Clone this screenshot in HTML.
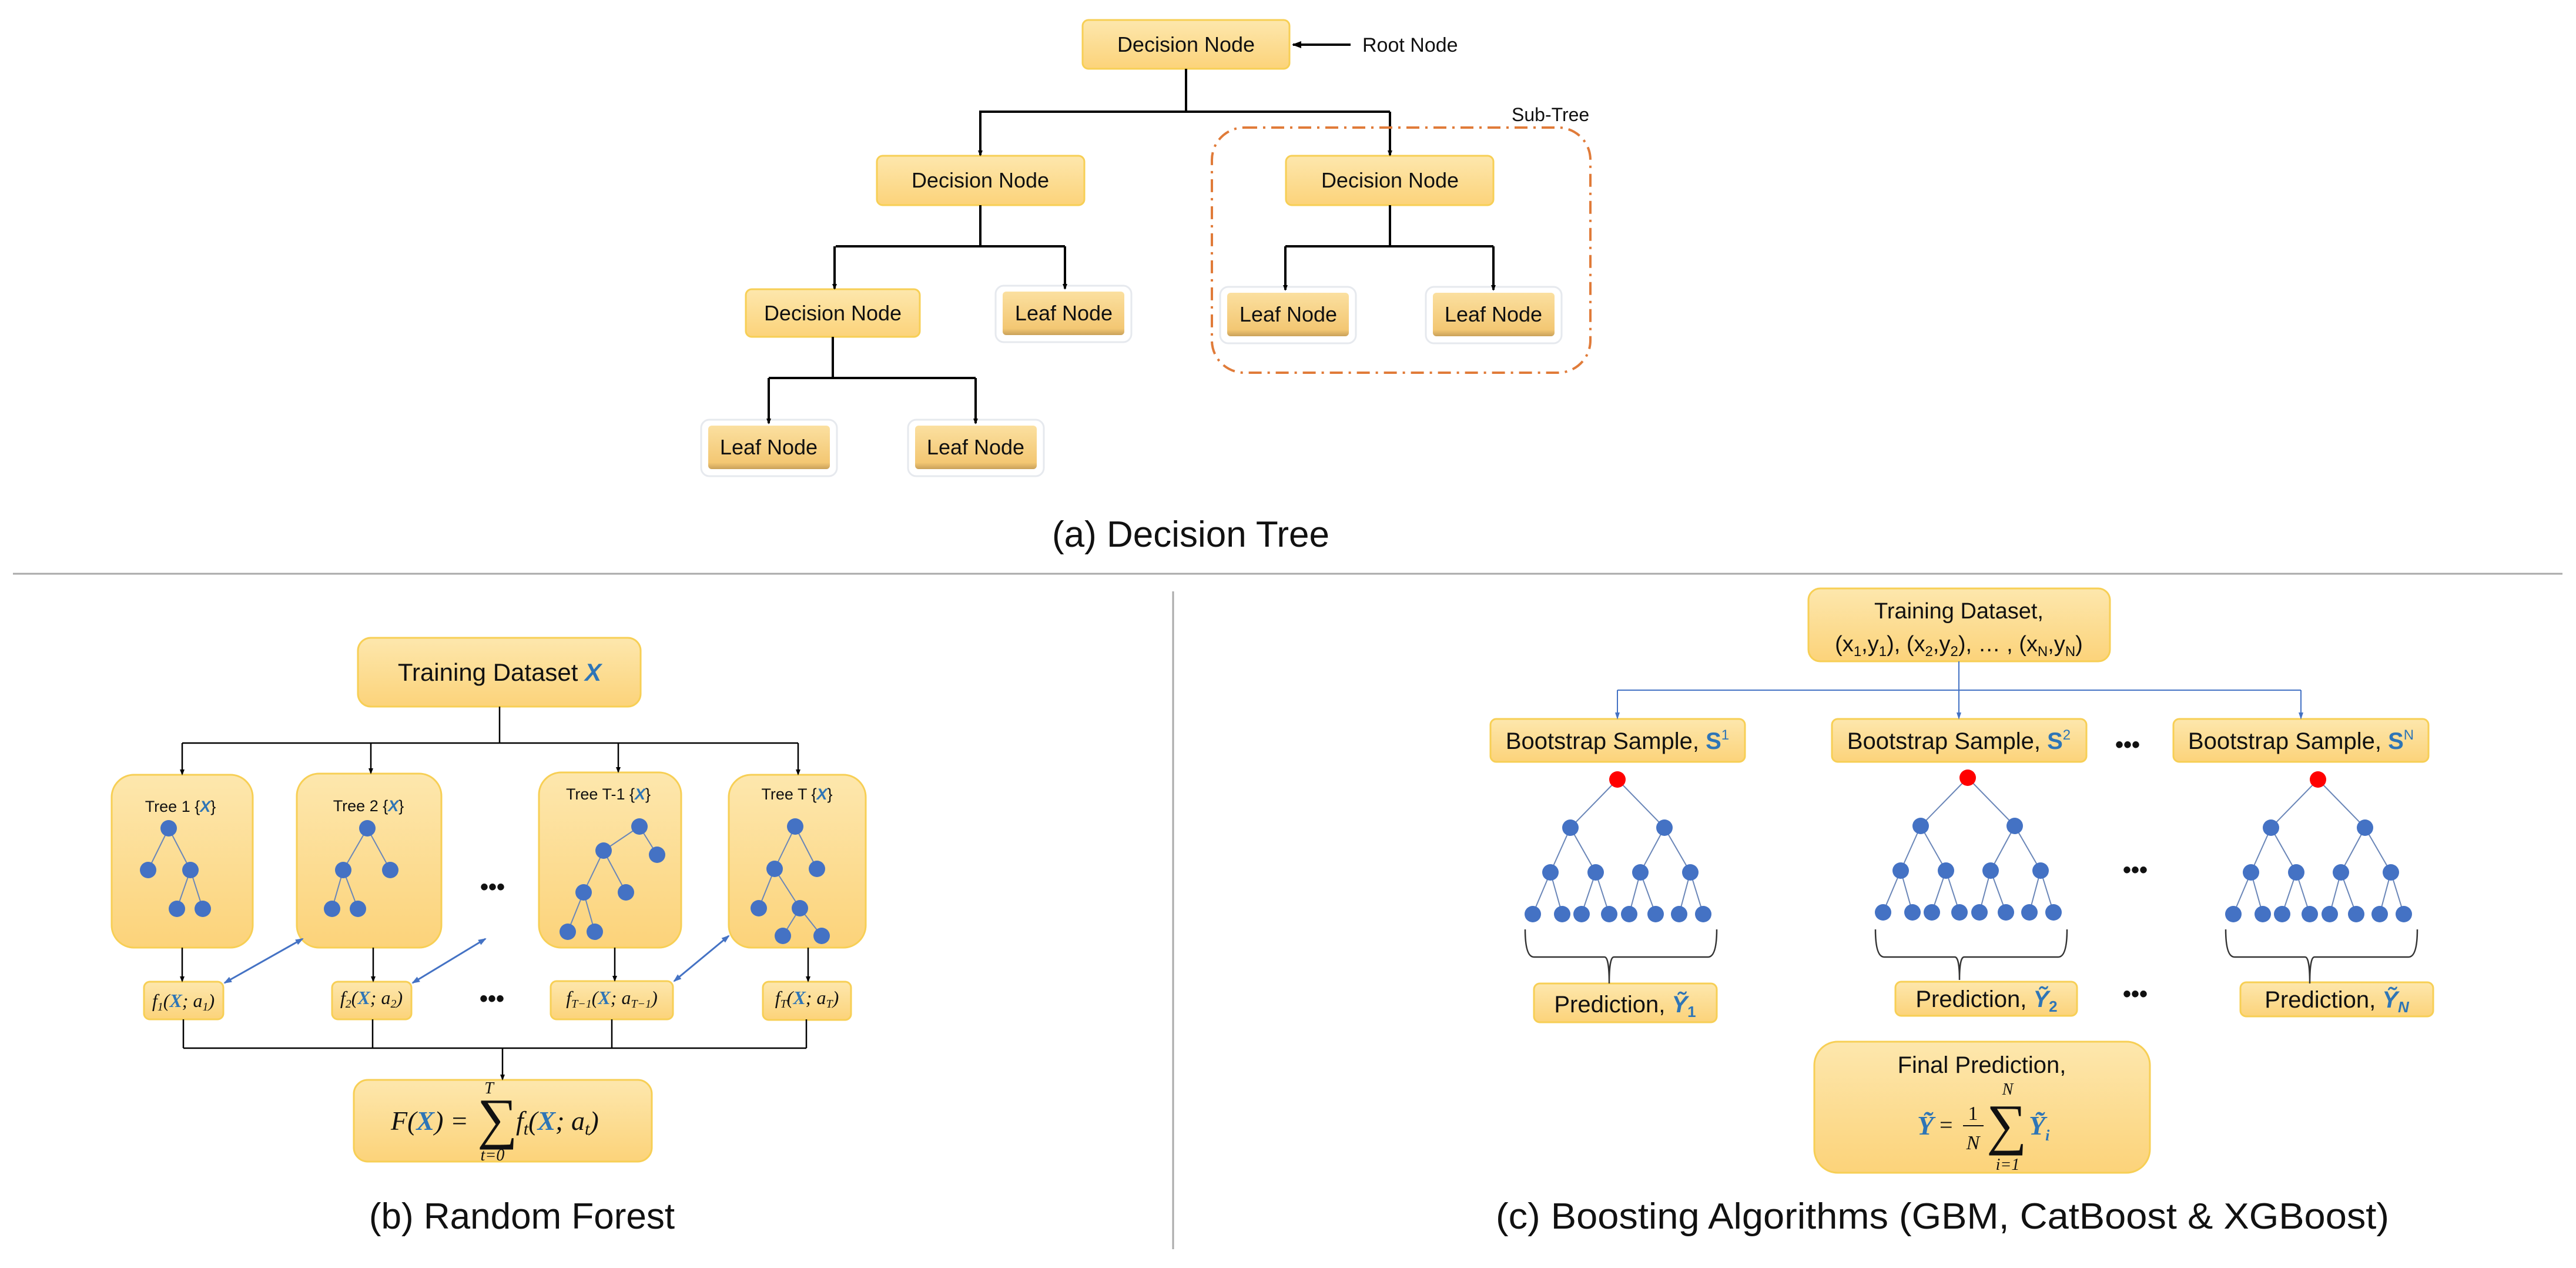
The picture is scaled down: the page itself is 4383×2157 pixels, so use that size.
<!DOCTYPE html>
<html><head><meta charset="utf-8"><style>
html,body{margin:0;padding:0;background:#fff;}
svg{display:block;font-family:"Liberation Sans",sans-serif;}
</style></head><body>
<svg id="s" width="4383" height="2157" viewBox="0 0 4383 2157" xmlns="http://www.w3.org/2000/svg" fill="#111">
<defs>
<linearGradient id="g" x1="0" y1="0" x2="0" y2="1"><stop offset="0" stop-color="#fde7ad"/><stop offset="1" stop-color="#fcd37a"/></linearGradient>
<linearGradient id="lg" x1="0" y1="0" x2="0" y2="1"><stop offset="0" stop-color="#fbe0a0"/><stop offset="0.85" stop-color="#f3c773"/><stop offset="1" stop-color="#c9a15a"/></linearGradient>
<marker id="ab" markerWidth="10" markerHeight="10" refX="8" refY="5" orient="auto" markerUnits="userSpaceOnUse" viewBox="0 0 10 10"><path d="M0,1 L10,5 L0,9 z" fill="#000"/></marker>
<marker id="ab2" markerWidth="16" markerHeight="16" refX="14" refY="8" orient="auto" markerUnits="userSpaceOnUse" viewBox="0 0 16 16"><path d="M0,2 L16,8 L0,14 z" fill="#000"/></marker>
<marker id="bb" markerWidth="14" markerHeight="14" refX="12" refY="7" orient="auto-start-reverse" markerUnits="userSpaceOnUse" viewBox="0 0 14 14"><path d="M0,2 L14,7 L0,12 z" fill="#4472c4"/></marker>
<marker id="bs" markerWidth="12" markerHeight="12" refX="10" refY="6" orient="auto" markerUnits="userSpaceOnUse" viewBox="0 0 12 12"><path d="M0,2 L12,6 L0,10 z" fill="#4472c4"/></marker>
</defs>

<!-- (a) Decision tree -->
<g fill="url(#g)" stroke="#f7cf55" stroke-width="3">
<rect x="1842" y="34" width="352" height="83" rx="10"/>
<rect x="1492" y="265" width="353" height="84" rx="10"/>
<rect x="2188" y="265" width="353" height="84" rx="10"/>
<rect x="1269" y="492" width="296" height="81" rx="10"/>
</g>
<g>
<rect x="1694" y="486" width="231" height="96" rx="14" fill="#fff" stroke="#e6e9ee" stroke-width="3"/>
<rect x="1706" y="496" width="207" height="74" rx="6" fill="url(#lg)"/>
<rect x="2076" y="488" width="231" height="96" rx="14" fill="#fff" stroke="#e6e9ee" stroke-width="3"/>
<rect x="2088" y="498" width="207" height="74" rx="6" fill="url(#lg)"/>
<rect x="2426" y="488" width="231" height="96" rx="14" fill="#fff" stroke="#e6e9ee" stroke-width="3"/>
<rect x="2438" y="498" width="207" height="74" rx="6" fill="url(#lg)"/>
<rect x="1193" y="714" width="231" height="96" rx="14" fill="#fff" stroke="#e6e9ee" stroke-width="3"/>
<rect x="1205" y="724" width="207" height="74" rx="6" fill="url(#lg)"/>
<rect x="1545" y="714" width="231" height="96" rx="14" fill="#fff" stroke="#e6e9ee" stroke-width="3"/>
<rect x="1557" y="724" width="207" height="74" rx="6" fill="url(#lg)"/>
</g>
<g font-size="36" text-anchor="middle">
<text x="2018" y="88">Decision Node</text>
<text x="1668" y="319">Decision Node</text>
<text x="2365" y="319">Decision Node</text>
<text x="1417" y="545">Decision Node</text>
<text x="1810" y="545">Leaf Node</text>
<text x="2192" y="547">Leaf Node</text>
<text x="2541" y="547">Leaf Node</text>
<text x="1308" y="773">Leaf Node</text>
<text x="1660" y="773">Leaf Node</text>
</g>
<text x="2318" y="88" font-size="34">Root Node</text>
<line x1="2298" y1="76" x2="2200" y2="76" stroke="#000" stroke-width="4" marker-end="url(#ab2)"/>
<g stroke="#000" stroke-width="4" fill="none">
<path d="M2018,117 V190 M1666,190 H2365"/>
<path d="M1668,349 V419 M1422,419 H1812"/>
<path d="M2365,349 V419 M2187,419 H2541"/>
<path d="M1417,573 V643 M1308,643 H1660"/>
</g>
<g stroke="#000" stroke-width="4" marker-end="url(#ab)">
<line x1="1668" y1="190" x2="1668" y2="264"/>
<line x1="2365" y1="190" x2="2365" y2="264"/>
<line x1="1420" y1="419" x2="1420" y2="491"/>
<line x1="1812" y1="419" x2="1812" y2="491"/>
<line x1="2187" y1="419" x2="2187" y2="493"/>
<line x1="2541" y1="419" x2="2541" y2="493"/>
<line x1="1308" y1="643" x2="1308" y2="720"/>
<line x1="1660" y1="643" x2="1660" y2="720"/>
</g>
<rect x="2062" y="217" width="644" height="417" rx="55" fill="none" stroke="#e07b39" stroke-width="4" stroke-dasharray="22,10,4,10"/>
<text x="2572" y="206" font-size="32">Sub-Tree</text>
<text x="2026" y="930" font-size="62" text-anchor="middle">(a) Decision Tree</text>

<!-- separators -->
<line x1="22" y1="976" x2="4360" y2="976" stroke="#aaa" stroke-width="3"/>
<line x1="1996" y1="1006" x2="1996" y2="2125" stroke="#aaa" stroke-width="3"/>

<!-- (b) random forest -->
<g fill="url(#g)" stroke="#f7cf55" stroke-width="3">
<rect x="609" y="1085" width="481" height="117" rx="22"/>
<rect x="190" y="1318" width="240" height="294" rx="38"/>
<rect x="505" y="1316" width="246" height="296" rx="38"/>
<rect x="917" y="1314" width="242" height="298" rx="38"/>
<rect x="1240" y="1318" width="233" height="294" rx="38"/>
<rect x="245" y="1670" width="135" height="64" rx="10"/>
<rect x="565" y="1670" width="135" height="64" rx="10"/>
<rect x="937" y="1669" width="208" height="65" rx="10"/>
<rect x="1298" y="1670" width="150" height="65" rx="10"/>
<rect x="602" y="1837" width="507" height="139" rx="24"/>
</g>
<text x="850" y="1158" font-size="42" text-anchor="middle">Training Dataset <tspan fill="#2e75b6" font-weight="bold" font-style="italic">X</tspan></text>
<g font-size="27" text-anchor="middle">
<text x="307" y="1381">Tree 1 {<tspan fill="#2e75b6" font-weight="bold" font-style="italic">X</tspan>}</text>
<text x="627" y="1380">Tree 2 {<tspan fill="#2e75b6" font-weight="bold" font-style="italic">X</tspan>}</text>
<text x="1035" y="1360">Tree T-1 {<tspan fill="#2e75b6" font-weight="bold" font-style="italic">X</tspan>}</text>
<text x="1356" y="1360">Tree T {<tspan fill="#2e75b6" font-weight="bold" font-style="italic">X</tspan>}</text>
</g>
<g font-family="'Liberation Serif',serif" font-size="32" font-style="italic" text-anchor="middle">
<text x="312" y="1713">f<tspan font-size="20" dy="6">1</tspan><tspan dy="-6">(</tspan><tspan fill="#2e75b6" font-weight="bold">X</tspan>; a<tspan font-size="20" dy="6">1</tspan><tspan dy="-6">)</tspan></text>
<text x="632" y="1708">f<tspan font-size="20" dy="6">2</tspan><tspan dy="-6">(</tspan><tspan fill="#2e75b6" font-weight="bold">X</tspan>; a<tspan font-size="20" dy="6">2</tspan><tspan dy="-6">)</tspan></text>
<text x="1041" y="1708">f<tspan font-size="20" dy="6">T−1</tspan><tspan dy="-6">(</tspan><tspan fill="#2e75b6" font-weight="bold">X</tspan>; a<tspan font-size="20" dy="6">T−1</tspan><tspan dy="-6">)</tspan></text>
<text x="1373" y="1708">f<tspan font-size="20" dy="6">T</tspan><tspan dy="-6">(</tspan><tspan fill="#2e75b6" font-weight="bold">X</tspan>; a<tspan font-size="20" dy="6">T</tspan><tspan dy="-6">)</tspan></text>
</g>
<g font-family="'Liberation Serif',serif" font-size="46" font-style="italic">
<text x="665" y="1922">F(<tspan fill="#2e75b6" font-weight="bold">X</tspan>) =</text>
<text x="812" y="1935" font-size="96" font-style="normal">∑</text>
<text x="832" y="1860" font-size="28" text-anchor="middle">T</text>
<text x="838" y="1974" font-size="28" text-anchor="middle">t=0</text>
<text x="878" y="1922">f<tspan font-size="30" dy="8">t</tspan><tspan dy="-8">(</tspan><tspan fill="#2e75b6" font-weight="bold">X</tspan>; a<tspan font-size="30" dy="8">t</tspan><tspan dy="-8">)</tspan></text>
</g>
<g font-size="40" font-weight="bold" text-anchor="middle"><text x="838" y="1522">•••</text><text x="837" y="1712">•••</text></g>
<g stroke="#000" stroke-width="2.5" fill="none">
<path d="M850,1202 V1264 M310,1264 H1358"/>
<path d="M312,1734 V1783 M634,1734 V1783 M1041,1734 V1783 M1372,1734 V1783 M312,1783 H1372"/>
</g>
<g stroke="#000" stroke-width="2.5" marker-end="url(#ab)">
<line x1="310" y1="1264" x2="310" y2="1317"/>
<line x1="631" y1="1264" x2="631" y2="1315"/>
<line x1="1052" y1="1264" x2="1052" y2="1313"/>
<line x1="1358" y1="1264" x2="1358" y2="1317"/>
<line x1="310" y1="1612" x2="310" y2="1669"/>
<line x1="635" y1="1612" x2="635" y2="1669"/>
<line x1="1046" y1="1612" x2="1046" y2="1668"/>
<line x1="1375" y1="1612" x2="1375" y2="1669"/>
<line x1="855" y1="1783" x2="855" y2="1836"/>
</g>
<g stroke="#4472c4" stroke-width="3" marker-start="url(#bb)" marker-end="url(#bb)">
<line x1="382" y1="1672" x2="515" y2="1597"/>
<line x1="702" y1="1672" x2="826" y2="1597"/>
<line x1="1147" y1="1669" x2="1240" y2="1592"/>
</g>
<g id="rf"></g>
<text x="888" y="2090" font-size="62" text-anchor="middle">(b) Random Forest</text>

<!-- (c) boosting -->
<g fill="url(#g)" stroke="#f7cf55" stroke-width="3">
<rect x="3077" y="1001" width="513" height="124" rx="20"/>
<rect x="2536" y="1223" width="433" height="73" rx="10"/>
<rect x="3117" y="1223" width="433" height="73" rx="10"/>
<rect x="3698" y="1223" width="434" height="73" rx="10"/>
<rect x="2610" y="1673" width="311" height="66" rx="10"/>
<rect x="3225" y="1670" width="309" height="58" rx="10"/>
<rect x="3812" y="1671" width="328" height="58" rx="10"/>
<rect x="3087" y="1772" width="571" height="223" rx="40"/>
</g>
<g font-size="38" text-anchor="middle">
<text x="3333" y="1052">Training Dataset,</text>
<text x="3333" y="1108">(x<tspan font-size="24" dy="8">1</tspan><tspan dy="-8">,y</tspan><tspan font-size="24" dy="8">1</tspan><tspan dy="-8">), (x</tspan><tspan font-size="24" dy="8">2</tspan><tspan dy="-8">,y</tspan><tspan font-size="24" dy="8">2</tspan><tspan dy="-8">), … , (x</tspan><tspan font-size="24" dy="8">N</tspan><tspan dy="-8">,y</tspan><tspan font-size="24" dy="8">N</tspan><tspan dy="-8">)</tspan></text>
</g>
<g font-size="40" text-anchor="middle">
<text x="2752" y="1274">Bootstrap Sample, <tspan fill="#2e75b6" font-weight="bold">S</tspan><tspan fill="#2e75b6" font-size="24" dy="-16">1</tspan></text>
<text x="3333" y="1274">Bootstrap Sample, <tspan fill="#2e75b6" font-weight="bold">S</tspan><tspan fill="#2e75b6" font-size="24" dy="-16">2</tspan></text>
<text x="3915" y="1274">Bootstrap Sample, <tspan fill="#2e75b6" font-weight="bold">S</tspan><tspan fill="#2e75b6" font-size="24" dy="-16">N</tspan></text>
<text x="2765" y="1722">Prediction, <tspan fill="#2e75b6" font-weight="bold" font-style="italic">Ỹ</tspan><tspan fill="#2e75b6" font-weight="bold" font-size="26" dy="8">1</tspan></text>
<text x="3380" y="1713">Prediction, <tspan fill="#2e75b6" font-weight="bold" font-style="italic">Ỹ</tspan><tspan fill="#2e75b6" font-weight="bold" font-size="26" dy="8">2</tspan></text>
<text x="3976" y="1714">Prediction, <tspan fill="#2e75b6" font-weight="bold" font-style="italic">Ỹ</tspan><tspan fill="#2e75b6" font-weight="bold" font-style="italic" font-size="26" dy="8">N</tspan></text>
<text x="3372" y="1825">Final Prediction,</text>
</g>
<g font-family="'Liberation Serif',serif" font-style="italic">
<text x="3262" y="1930" font-size="46" fill="#2e75b6" font-weight="bold">Ỹ</text>
<text x="3300" y="1927" font-size="40" font-style="normal">=</text>
<text x="3357" y="1905" font-size="34" font-style="normal" text-anchor="middle">1</text>
<line x1="3340" y1="1915" x2="3375" y2="1915" stroke="#111" stroke-width="2"/>
<text x="3357" y="1955" font-size="34" text-anchor="middle">N</text>
<text x="3380" y="1945" font-size="96" font-style="normal">∑</text>
<text x="3416" y="1862" font-size="28" text-anchor="middle">N</text>
<text x="3416" y="1990" font-size="28" text-anchor="middle">i=1</text>
<text x="3452" y="1930" font-size="46" fill="#2e75b6" font-weight="bold">Ỹ<tspan font-size="26" dy="10">i</tspan></text>
</g>
<g font-size="40" font-weight="bold" text-anchor="middle"><text x="3620" y="1280">•••</text><text x="3633" y="1493">•••</text><text x="3633" y="1704">•••</text></g>
<g stroke="#4472c4" stroke-width="2" fill="none">
<path d="M3333,1125 V1174 M2752,1174 H3915"/>
</g>
<g stroke="#4472c4" stroke-width="2" marker-end="url(#bs)">
<line x1="2752" y1="1174" x2="2752" y2="1222"/>
<line x1="3333" y1="1174" x2="3333" y2="1222"/>
<line x1="3915" y1="1174" x2="3915" y2="1222"/>
</g>
<g id="bt"></g>
<text x="3305" y="2090" font-size="62" text-anchor="middle" textLength="1520" lengthAdjust="spacingAndGlyphs">(c) Boosting Algorithms (GBM, CatBoost &amp; XGBoost)</text>
</svg>
<script>
var NS="http://www.w3.org/2000/svg";
function el(p,t,a){var e=document.createElementNS(NS,t);for(var k in a)e.setAttribute(k,a[k]);p.appendChild(e);return e;}
var rf=document.getElementById("rf");
var trees=[
 {n:[[287,1409],[252,1480],[324,1480],[301,1546],[345,1546]],e:[[0,1],[0,2],[2,3],[2,4]]},
 {n:[[625,1409],[584,1480],[664,1480],[565,1546],[609,1546]],e:[[0,1],[0,2],[1,3],[1,4]]},
 {n:[[1088,1406],[1027,1447],[1118,1454],[993,1518],[1065,1518],[966,1585],[1012,1585]],e:[[0,1],[0,2],[1,3],[1,4],[3,5],[3,6]]},
 {n:[[1353,1406],[1318,1478],[1390,1478],[1291,1545],[1361,1545],[1332,1592],[1398,1592]],e:[[0,1],[0,2],[1,3],[1,4],[4,5],[4,6]]}
];
trees.forEach(function(t){
 t.e.forEach(function(e){var a=t.n[e[0]],b=t.n[e[1]];el(rf,"line",{x1:a[0],y1:a[1],x2:b[0],y2:b[1],stroke:"#6a86b8","stroke-width":2});});
 t.n.forEach(function(p){el(rf,"circle",{cx:p[0],cy:p[1],r:14,fill:"#4472c4"});});
});
var bt=document.getElementById("bt");
[[2752,1326],[3348,1323],[3944,1326]].forEach(function(r,i){
 var x=r[0],y=r[1];
 var L2=[[x-80,y+82],[x+80,y+82]];
 var L3=[[-114,158],[-37,158],[39,158],[124,158]].map(function(o){return[x+o[0],y+o[1]];});
 var L4=[-144,-94,-61,-14,20,65,105,146].map(function(o){return[x+o,y+229];});
 function ln(a,b){el(bt,"line",{x1:a[0],y1:a[1],x2:b[0],y2:b[1],stroke:"#6a86b8","stroke-width":2});}
 ln(r,L2[0]);ln(r,L2[1]);ln(L2[0],L3[0]);ln(L2[0],L3[1]);ln(L2[1],L3[2]);ln(L2[1],L3[3]);
 for(var k=0;k<4;k++){ln(L3[k],L4[2*k]);ln(L3[k],L4[2*k+1]);}
 el(bt,"circle",{cx:x,cy:y,r:14,fill:"#ff0000"});
 L2.concat(L3,L4).forEach(function(p){el(bt,"circle",{cx:p[0],cy:p[1],r:14,fill:"#4472c4"});});
 var x0=x-157,x1=x+169,mid=x-14,ty=(i==1?1667:1673);
 el(bt,"path",{d:"M"+x0+",1581 Q"+x0+",1628 "+(x0+15)+",1628 L"+(mid-8)+",1628 Q"+mid+",1628 "+mid+","+ty+" Q"+mid+",1628 "+(mid+8)+",1628 L"+(x1-15)+",1628 Q"+x1+",1628 "+x1+",1581",fill:"none",stroke:"#333","stroke-width":2.5});
});
</script>
</body></html>
